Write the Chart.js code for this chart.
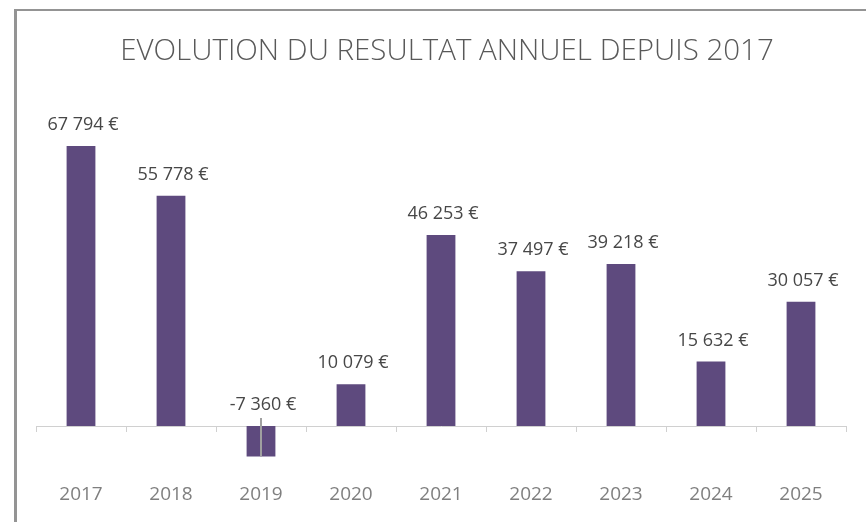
<!DOCTYPE html>
<html lang="fr">
<head>
  <meta charset="UTF-8" />
  <title>Evolution du résultat annuel</title>
  <script src="https://cdn.jsdelivr.net/npm/chart.js"></script>
  <style>
    html, body {
      margin: 0;
      padding: 0;
      background: #fff;
      overflow: hidden;
    }
    #frame {
      position: absolute;
      left: 14px;
      top: 9px;
      right: -10px;
      bottom: -10px;
      border-left: 3px solid #949494;
      border-top: 2px solid #949494;
    }
    #wrap {
      position: absolute;
      left: 0;
      top: 0;
      width: 866px;
      height: 522px;
    }
  </style>
</head>
<body>
  <div id="frame"></div>
  <div id="wrap"><canvas id="resultChart" width="866" height="522"></canvas></div>

  <script>
    const years = ['2017', '2018', '2019', '2020', '2021', '2022', '2023', '2024', '2025'];
    const results = [67794, 55778, -7360, 10079, 46253, 37497, 39218, 15632, 30057];
    const yMin = -20000;
    const yMax = 80000;

    const barColor = '#5e4a7e';
    const axisGray = '#d0d0d0';

    // "67 794 €" like Excel's French format
    function euro(v) {
      const s = Math.abs(v).toString().replace(/\B(?=(\d{3})+(?!\d))/g, '\u00A0');
      return (v < 0 ? '-' : '') + s + '\u00A0€';
    }

    const valueLabels = {
      id: 'valueLabels',
      afterDatasetsDraw(chart) {
        const ctx = chart.ctx;
        const meta = chart.getDatasetMeta(0);
        ctx.save();
        ctx.font = '18px "Open Sans"';
        ctx.fillStyle = '#474747';
        ctx.textAlign = 'center';
        ctx.textBaseline = 'middle';
        meta.data.forEach((bar, i) => {
          const v = results[i];
          const top = Math.min(bar.y, bar.base);
          ctx.fillText(euro(v), bar.x + 2, top - 21);
          if (v < 0) {
            // leader line from label down through the negative bar
            ctx.strokeStyle = '#a0a0a0';
            ctx.lineWidth = 2;
            ctx.beginPath();
            ctx.moveTo(bar.x, bar.base - 8);
            ctx.lineTo(bar.x, bar.y);
            ctx.stroke();
          }
        });
        ctx.restore();
      }
    };

    new Chart(document.getElementById('resultChart'), {
      type: 'bar',
      data: {
        labels: years,
        datasets: [{
          data: results,
          backgroundColor: barColor,
          borderWidth: 0,
          categoryPercentage: 1,
          barPercentage: 0.32
        }]
      },
      options: {
        responsive: false,
        animation: false,
        layout: { padding: { left: 28, right: 0, top: 0, bottom: 13.4 } },
        plugins: {
          legend: { display: false },
          tooltip: { enabled: false },
          title: {
            display: true,
            text: 'EVOLUTION DU RESULTAT ANNUEL DEPUIS 2017',
            color: '#595959',
            font: { family: '"Open Sans"', size: 29.5, weight: '300' },
            padding: { top: 34, bottom: 26.2 }
          }
        },
        scales: {
          x: {
            position: { y: 0 },
            grid: {
              display: true,
              drawOnChartArea: false,
              drawTicks: true,
              tickLength: 5,
              color: axisGray,
              offset: true
            },
            border: { display: true, color: axisGray, width: 1 },
            ticks: {
              color: '#7f7f7f',
              padding: 52,
              font: { family: '"Open Sans"', size: 19 }
            },
            afterFit: s => {
              s.height = 0;
              s.paddingLeft = 0;
              s.paddingRight = 0;
            }
          },
          y: {
            position: 'left',
            min: yMin,
            max: yMax,
            grid: { display: false },
            border: { display: false },
            ticks: { display: false },
            afterFit: s => { s.width = 8; }
          },
          y2: {
            type: 'linear',
            position: 'right',
            grid: { display: false },
            border: { display: false },
            ticks: { display: false },
            afterFit: s => { s.width = 20; }
          }
        }
      },
      plugins: [valueLabels]
    });
  </script>
</body>
</html>
